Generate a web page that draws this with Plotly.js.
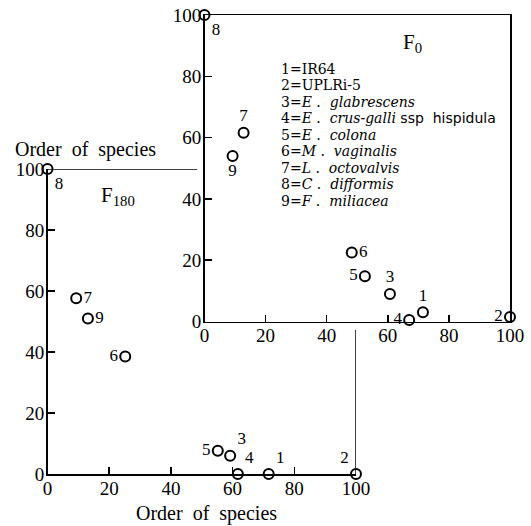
<!DOCTYPE html>
<html>
<head>
<meta charset="utf-8">
<script src="https://cdn.plot.ly/plotly-3.0.1.min.js"></script>
<style>html,body{margin:0;padding:0;background:#fff;}#chart{width:531px;height:526px;}</style>
</head>
<body>
<div id="chart"></div>
<script>
// ---- data ----
const speciesIds = ['1', '2', '3', '4', '5', '6', '7', '8', '9'];
const f0X = [71.5, 100, 60.7, 67, 52.5, 48.2, 12.8, 0, 9.2];
const f0Y = [3, 1.5, 9, 0.5, 14.8, 22.5, 61.6, 100, 54];
const f180X = [71.7, 100, 59.2, 61.7, 55.2, 25.2, 9.3, 0, 13.1];
const f180Y = [0, 0, 6, 0, 7.6, 38.5, 57.6, 100, 51];
const tickValues = [0, 20, 40, 60, 80, 100];
const tickLabels = ['0', '20', '40', '60', '80', '100'];
const axisTitle = 'Order\u00a0\u00a0of\u00a0\u00a0species';
const panelF0 = 'F<sub>0</sub>';
const panelF180 = 'F<sub>180</sub>';
const legendLines = [
  '1=IR64',
  '2=UPLRi-5',
  '3=<i>E</i> .  <i>glabrescens</i>',
  '4=<i>E</i> .  <i>crus-galli</i> <span style="font-family:DejaVu Sans">ssp  hispidula</span>',
  '5=<i>E</i> .  <i>colona</i>',
  '6=<i>M</i> .  <i>vaginalis</i>',
  '7=<i>L</i> .  <i>octovalvis</i>',
  '8=<i>C</i> .  <i>difformis</i>',
  '9=<i>F</i> .  <i>miliacea</i>'
];

// ---- styles ----
const serif = 'Liberation Serif, Times New Roman, serif';
const legendFont = 'DejaVu Serif, serif';
const f0TextPos = ['top center', 'middle left', 'top center', 'middle left', 'middle left',
  'middle right', 'top center', 'bottom right', 'bottom center'];
const f180TextPos = ['top right', 'top left', 'top right', 'top right', 'middle left',
  'middle left', 'middle right', 'bottom right', 'middle right'];

const marker = {symbol: 'circle', size: 10, color: '#fff', line: {color: '#000', width: 2}};

const traces = [
  {
    x: f180X, y: f180Y, text: speciesIds, mode: 'markers+text', type: 'scatter',
    xaxis: 'x', yaxis: 'y', textposition: f180TextPos, cliponaxis: false,
    textfont: {family: serif, size: 17, color: '#000'}, marker: marker, hoverinfo: 'none'
  },
  {
    x: f0X, y: f0Y, text: speciesIds, mode: 'markers+text', type: 'scatter',
    xaxis: 'x2', yaxis: 'y2', textposition: f0TextPos, cliponaxis: false,
    textfont: {family: serif, size: 17, color: '#000'}, marker: marker, hoverinfo: 'none'
  }
];

function axis(extra) {
  return Object.assign({
    range: [0, 100], showgrid: false, zeroline: false, showline: true,
    linecolor: '#000', linewidth: 1.5, ticks: 'inside', ticklen: 7, tickwidth: 1.5,
    tickcolor: '#000', tickvals: tickValues, ticktext: tickLabels,
    tickfont: {family: serif, size: 19, color: '#000'}, fixedrange: true
  }, extra);
}

const annotations = [
  {xref: 'paper', yref: 'paper', x: 13 / 531, y: (526 - 149) / 526, xanchor: 'left', yanchor: 'middle',
   text: axisTitle, showarrow: false, font: {family: serif, size: 20, color: '#000'}},
  {xref: 'paper', yref: 'paper', x: 206 / 531, y: (526 - 513) / 526, xanchor: 'center', yanchor: 'middle',
   text: axisTitle, showarrow: false, font: {family: serif, size: 20, color: '#000'}},
  {xref: 'x2', yref: 'y2', x: 68, y: 90.7, text: panelF0, showarrow: false,
   font: {family: serif, size: 21, color: '#000'}},
  {xref: 'x', yref: 'y', x: 23, y: 91, text: panelF180, showarrow: false,
   font: {family: serif, size: 21, color: '#000'}}
];
legendLines.forEach(function (t, i) {
  annotations.push({xref: 'x2', yref: 'y2', x: 24.5, y: 82.5 - i * 5.4, xanchor: 'left', yanchor: 'middle',
    text: t, showarrow: false, font: {family: legendFont, size: 14, color: '#000'}});
});

const layout = {
  width: 531, height: 526, margin: {l: 0, r: 0, t: 0, b: 0},
  paper_bgcolor: '#fff', plot_bgcolor: 'rgba(0,0,0,0)', showlegend: false,
  xaxis: axis({domain: [47.5 / 531, 356 / 531], anchor: 'y', ticklabelstandoff: -3}),
  yaxis: axis({domain: [52 / 526, 357 / 526], anchor: 'x', ticklabelstandoff: -2}),
  xaxis2: axis({domain: [204.5 / 531, 510 / 531], anchor: 'y2', mirror: true, ticklabelstandoff: -4}),
  yaxis2: axis({domain: [204.5 / 526, 511 / 526], anchor: 'x2', mirror: true, ticklabelstandoff: -2}),
  shapes: [
    {type: 'line', xref: 'x', yref: 'y', x0: 0, x1: 48.5, y0: 100, y1: 100, line: {color: '#000', width: 1.5}},
    {type: 'line', xref: 'x', yref: 'y', x0: 100, x1: 100, y0: 0, y1: 47.2, line: {color: '#000', width: 1.5}}
  ],
  annotations: annotations
};

Plotly.newPlot('chart', traces, layout, {staticPlot: true, displayModeBar: false});
</script>
</body>
</html>
